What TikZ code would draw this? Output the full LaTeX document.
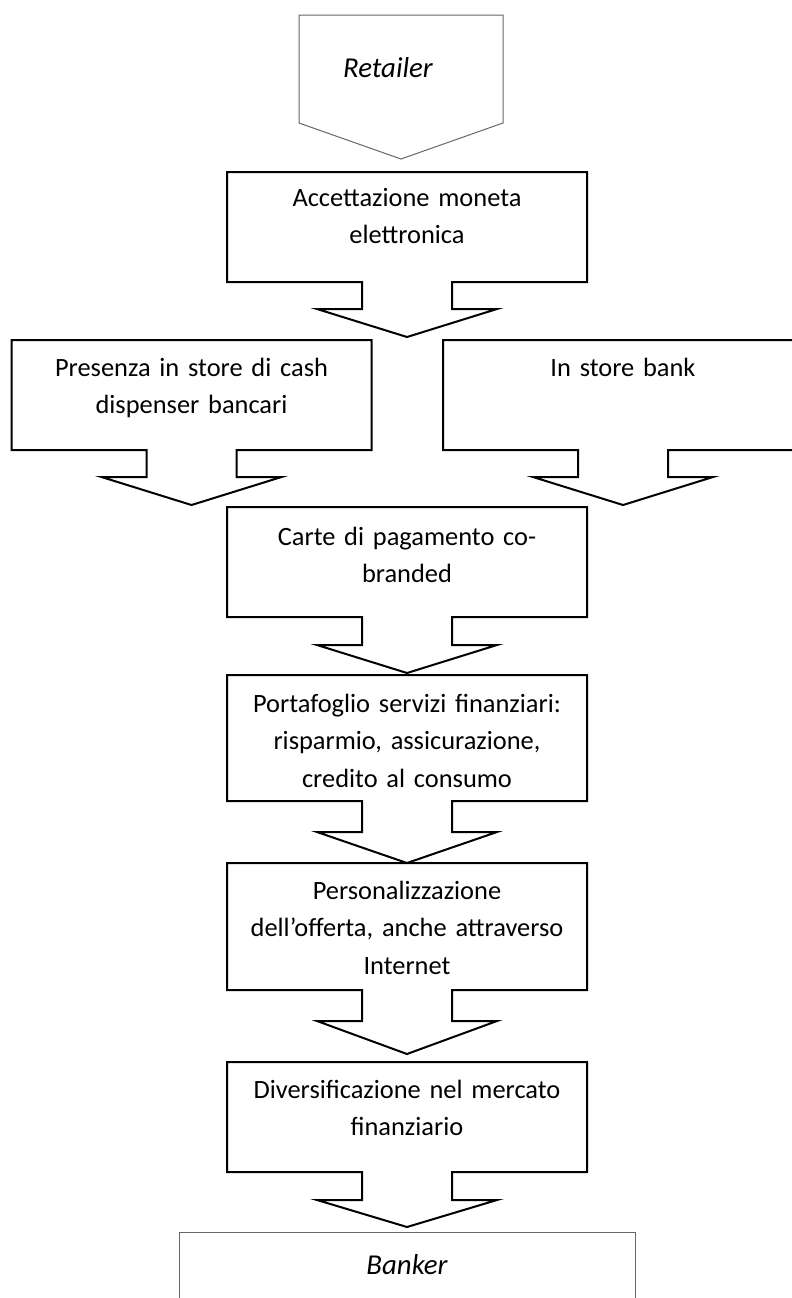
\documentclass[tikz,border=0pt]{standalone}
\usepackage{fontspec}
\setmainfont{Carlito}
\newcommand\dcallout[5]{% cx, top, bottom, stem bottom, tip
  \draw[calloutline] (#1-180,#2) -- (#1+180,#2) -- (#1+180,#3) -- (#1+45,#3) -- (#1+45,#4)
    -- (#1+90,#4) -- (#1,#5) -- (#1-90,#4) -- (#1-45,#4) -- (#1-45,#3) -- (#1-180,#3) -- cycle;}
\begin{document}
\begin{tikzpicture}[x=0.5pt,y=-0.5pt,
  calloutline/.style={draw=black,line width=1pt,line join=miter},
  greyline/.style={draw=black!60,line width=0.5pt},
  boxtext/.style={anchor=base,align=center,text width=180pt,inner sep=0pt,
    font=\fontsize{13.2}{18.75}\selectfont},
  endtext/.style={anchor=base,inner sep=0pt,font=\fontsize{14.4}{18.75}\selectfont\itshape},
  ]
\useasboundingbox (0,0) rectangle (792,1298);
\clip (0,0) rectangle (792,1298);

% Retailer
\draw[greyline] (299,15) -- (503,15) -- (503,123) -- (401,159) -- (299,123) -- cycle;
\node[endtext] (retailer) at (388,77) {Retailer};

% Box 1
\dcallout{407}{172}{282}{309}{337}
\node[boxtext] (acc) at (407,206) {Accettazione moneta\\elettronica};

% Row 2
\dcallout{191.5}{340}{450}{477}{505}
\node[boxtext] (cash) at (191.5,376) {Presenza in store di cash\\dispenser bancari};
\dcallout{623}{340}{450}{477}{505}
\node[boxtext] (bank) at (623,376) {In store bank};

% Box 3
\dcallout{407}{507}{617}{645}{673}
\node[boxtext] (carte) at (407,545) {Carte di pagamento co-\\branded};

% Box 4
\dcallout{407}{675}{801}{832}{863}
\node[boxtext] (porta) at (407,712) {Portafoglio servizi finanziari:\\risparmio, assicurazione,\\credito al consumo};

% Box 5
\dcallout{407}{863}{990}{1021}{1054}
\node[boxtext] (pers) at (407,899) {Personalizzazione\\dell’offerta, anche attraverso\\Internet};

% Box 6
\dcallout{407}{1062}{1172}{1200}{1227}
\node[boxtext] (div) at (407,1098) {Diversificazione nel mercato\\finanziario};

% Banker
\draw[greyline] (179,1232) rectangle (635,1330);
\node[endtext] (banker) at (407,1274) {Banker};
\end{tikzpicture}
\end{document}
